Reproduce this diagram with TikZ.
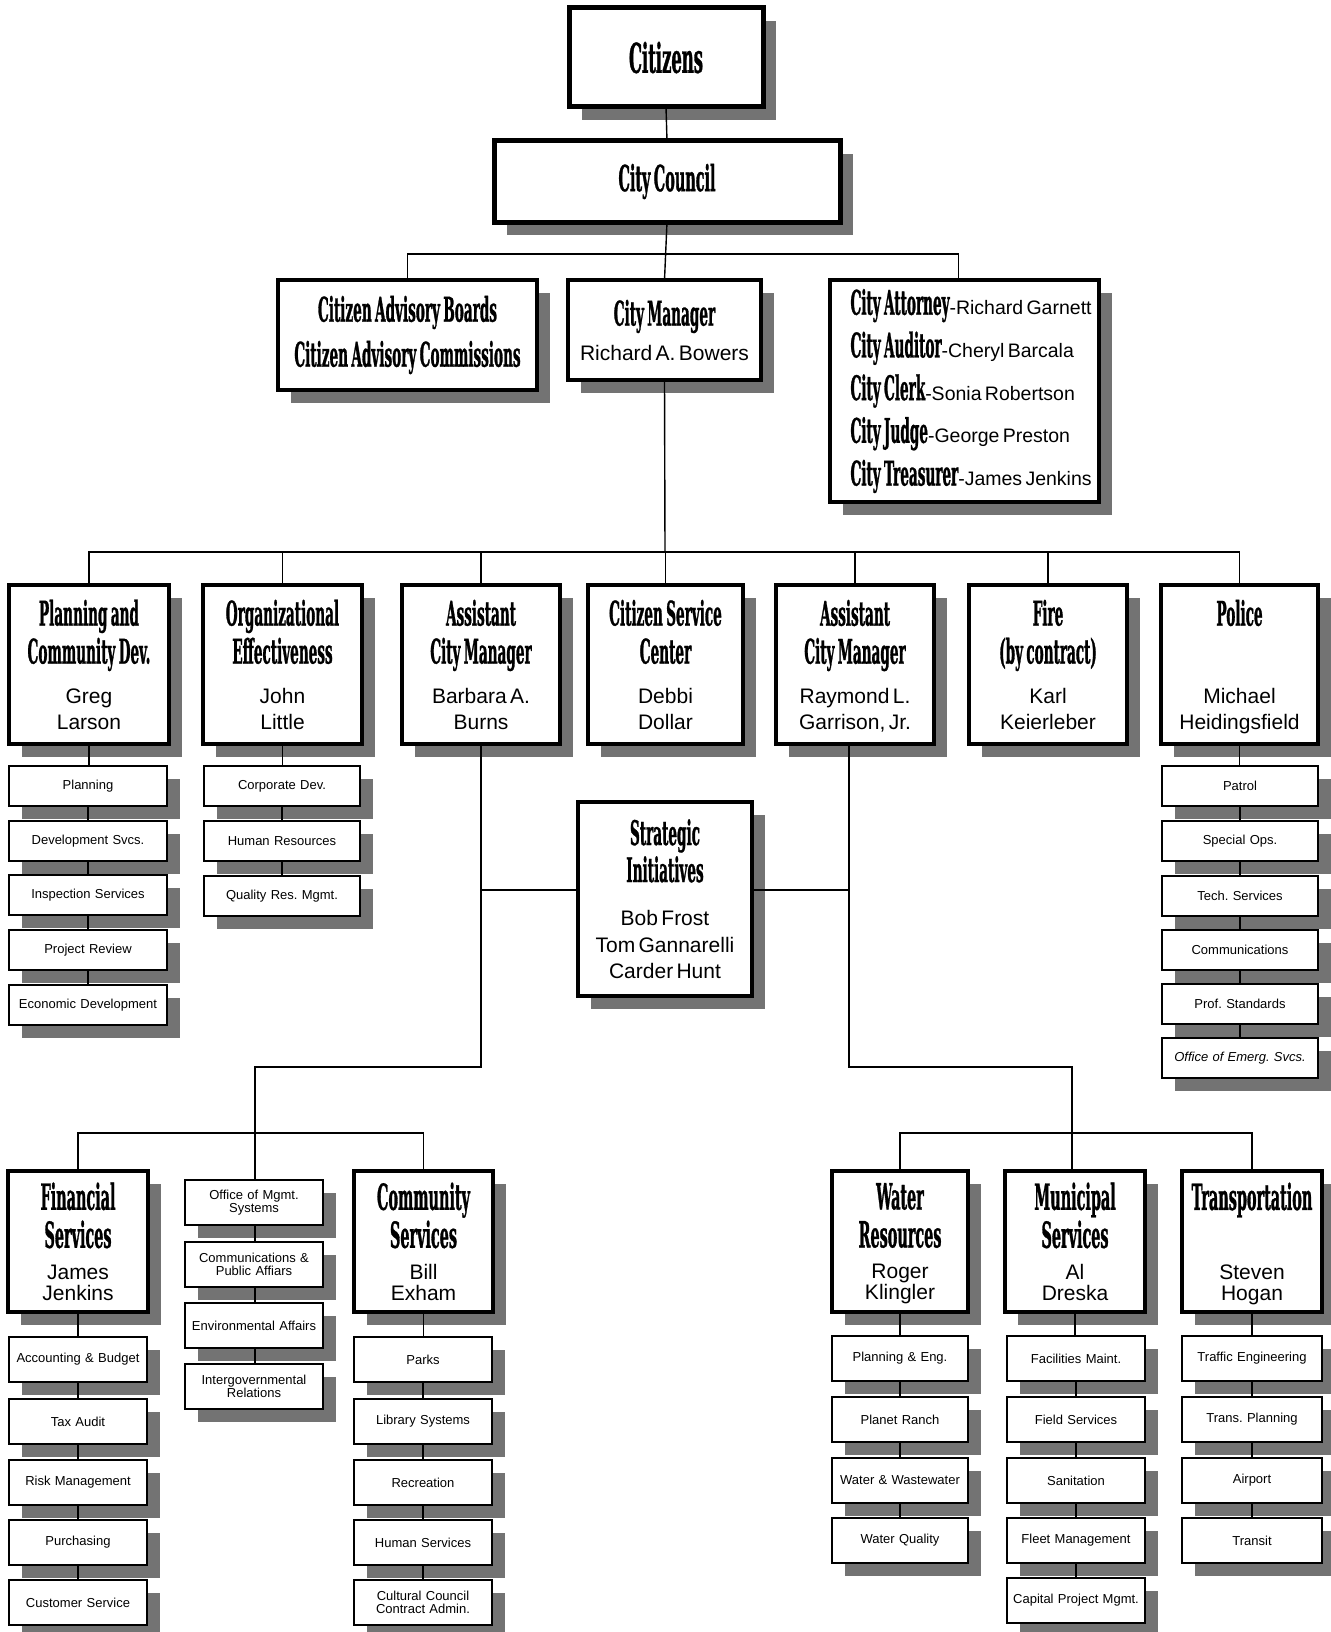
\documentclass[tikz,border=0pt]{standalone}
\usepackage{fontspec}
\setmainfont{Liberation Sans}
\newfontfamily\dispfont[FakeStretch=0.4,FakeBold=0.8]{DejaVu Serif}
\usetikzlibrary{shadows,calc}
\frenchspacing

\newcommand\ttlR{\dispfont\bfseries\fontsize{34}{38}\selectfont}
\newcommand\ttlB{\dispfont\bfseries\fontsize{36}{38}\selectfont}
\newcommand\ttlC{\dispfont\bfseries\fontsize{34}{40}\selectfont}
\newcommand\nmR{\fontsize{21}{26}\selectfont}
\newcommand\nmB{\fontsize{21}{21}\selectfont}
\newcommand\subf{\fontsize{13}{13}\selectfont}

\tikzset{
  conn/.style={line width=1.4pt},
  shad/.style={general shadow={fill=black!55, shadow xshift=13pt, shadow yshift=-13pt}},
  mainbox/.style={draw, line width=4.5pt, fill=white, shad, inner sep=0pt, outer sep=0pt, align=center},
  topbox/.style={mainbox, line width=5pt},
  subbox/.style={draw, line width=1.8pt, fill=white, shad, inner sep=0pt, outer sep=0pt, align=center, font=\subf},
}

% #1 name, #2 x1, #3 y1, #4 x2, #5 y2, #6 style, #7 content
\newcommand\BX[7]{%
  \pgfmathsetmacro\bxw{#4-#2}\pgfmathsetmacro\bxh{#5-#3}\pgfmathsetmacro\bxt{#4-#2-4}%
  \node[minimum width=\bxw pt, minimum height=\bxh pt, text width=\bxt pt, #6] (#1) at ({(#2+#4)/2},{(#3+#5)/2}) {#7};}
\newcommand\HD[3]{{\ttlR #1\par}\vspace{#3}{\nmR #2\par}}
\newcommand\HB[2]{{\ttlB #1\par}\vspace{10.5pt}{\nmB #2\par}}

\begin{document}
\begin{tikzpicture}[x=1pt,y=-1pt]
\fill[white] (0,0) rectangle (1330,1632);
\useasboundingbox (0,0) rectangle (1330,1632);

% ---------- top ----------
\BX{cit}{569}{8}{763}{107}{topbox}{{\dispfont\bfseries\fontsize{41}{44}\selectfont Citizens\par}}
\BX{council}{494}{141}{840}{222}{topbox}{{\dispfont\bfseries\fontsize{36}{40}\selectfont City Council\par}}
\BX{cab}{278}{280}{537}{390}{mainbox}{{\ttlC\fontsize{34}{45}\selectfont Citizen Advisory Boards\\Citizen Advisory Commissions\par}}
\BX{cm}{568}{280}{761}{380}{mainbox}{{\ttlC City Manager\par}\vspace{8.5pt}{\nmR Richard A. Bowers\par}}
\BX{catty}{830}{280}{1099}{502}{mainbox, text width=262pt, align=left}{\leftskip=17pt\fontsize{19.5}{42.7}\selectfont
{\ttlC City Attorney}-Richard Garnett\\
{\ttlC City Auditor}-Cheryl Barcala\\
{\ttlC City Clerk}-Sonia Robertson\\
{\ttlC City Judge}-George Preston\\
{\ttlC City Treasurer}-James Jenkins\par}

% ---------- row 2 ----------
\BX{pcd}{9}{585}{169}{744}{mainbox}{\HD{Planning and\\Community Dev.}{Greg\\Larson}{13.5pt}}
\BX{oe}{203}{585}{362}{744}{mainbox}{\HD{Organizational\\Effectiveness}{John\\Little}{13.5pt}}
\BX{acm1}{402}{585}{560}{744}{mainbox}{\HD{Assistant\\City Manager}{Barbara A.\\Burns}{13.5pt}}
\BX{csc}{588}{585}{743}{744}{mainbox}{\HD{Citizen Service\\Center}{Debbi\\Dollar}{13.5pt}}
\BX{acm2}{776}{585}{934}{744}{mainbox}{\HD{Assistant\\City Manager}{Raymond L.\\\smash{Garrison, Jr.}}{13.5pt}}
\BX{fire}{969}{585}{1127}{744}{mainbox}{\HD{Fire\\(by contract)}{Karl\\Keierleber}{13.5pt}}
\BX{police}{1161}{585}{1318}{744}{mainbox}{\HD{Police\\\mbox{}}{Michael\\\smash{Heidingsfield}}{13.5pt}}

% planning subs
\BX{ps1}{9}{766}{167}{806}{subbox}{Planning}
\BX{ps2}{9}{821}{167}{861}{subbox}{Development Svcs.}
\BX{ps3}{9}{875}{167}{915}{subbox}{Inspection Services}
\BX{ps4}{9}{930}{167}{970}{subbox}{Project Review}
\BX{ps5}{9}{985}{167}{1025}{subbox}{Economic Development}
% org eff subs
\BX{os1}{204}{766}{360}{806}{subbox}{Corporate Dev.}
\BX{os2}{204}{821}{360}{861}{subbox}{Human Resources}
\BX{os3}{204}{876}{360}{916}{subbox}{Quality Res. Mgmt.}
% police subs
\BX{pol1}{1162}{766}{1318}{806}{subbox}{Patrol}
\BX{pol2}{1162}{821}{1318}{861}{subbox}{Special Ops.}
\BX{pol3}{1162}{876}{1318}{916}{subbox}{Tech. Services}
\BX{pol4}{1162}{930}{1318}{970}{subbox}{Communications}
\BX{pol5}{1162}{984}{1318}{1024}{subbox}{Prof. Standards}
\BX{pol6}{1162}{1038}{1318}{1078}{subbox}{\itshape Office of Emerg. Svcs.}

% strategic initiatives
\BX{si}{578}{802}{752}{996}{mainbox}{{\ttlR\fontsize{34}{37}\selectfont Strategic\\Initiatives\par}\vspace{17pt}{\fontsize{21}{26.5}\selectfont Bob Frost\\Tom Gannarelli\\Carder Hunt\par}}

% ---------- bottom left ----------
\BX{fin}{8}{1171}{148}{1312}{mainbox}{\HB{Financial\\Services}{James\\Jenkins}}
\BX{cs}{354}{1171}{493}{1312}{mainbox}{\HB{Community\\Services}{Bill\\Exham}}
\BX{mid1}{185}{1180}{323}{1225}{subbox}{Office of Mgmt.\\Systems}
\BX{mid2}{185}{1242}{323}{1287}{subbox}{Communications \&\\Public Affiars}
\BX{mid3}{185}{1303}{323}{1348}{subbox}{Environmental Affairs}
\BX{mid4}{185}{1364}{323}{1409}{subbox}{Intergovernmental\\Relations}

\BX{fs1}{9}{1337}{147}{1382}{subbox}{Accounting \& Budget}
\BX{fs2}{9}{1399}{147}{1444}{subbox}{Tax Audit}
\BX{fs3}{9}{1460}{147}{1505}{subbox}{Risk Management}
\BX{fs4}{9}{1520}{147}{1565}{subbox}{Purchasing}
\BX{fs5}{9}{1580}{147}{1625}{subbox}{Customer Service}

\BX{cs1}{354}{1337}{492}{1382}{subbox}{Parks}
\BX{cs2}{354}{1399}{492}{1444}{subbox}{Library Systems}
\BX{cs3}{354}{1460}{492}{1505}{subbox}{Recreation}
\BX{cs4}{354}{1520}{492}{1565}{subbox}{Human Services}
\BX{cs5}{354}{1580}{492}{1625}{subbox}{Cultural Council\\Contract Admin.}

% ---------- bottom right ----------
\BX{wr}{832}{1171}{968}{1312}{mainbox}{\HB{Water\\Resources}{Roger\\\smash{Klingler}}}
\BX{ms}{1005}{1171}{1145}{1312}{mainbox}{\HB{Municipal\\Services}{Al\\Dreska}}
\BX{tr}{1182}{1171}{1322}{1312}{mainbox}{\HB{Transportation\\\mbox{}}{Steven\\\smash{Hogan}}}

\BX{wr1}{832}{1336}{968}{1381}{subbox}{Planning \& Eng.}
\BX{wr2}{832}{1397}{968}{1442}{subbox}{Planet Ranch}
\BX{wr3}{832}{1458}{968}{1503}{subbox}{Water \& Wastewater}
\BX{wr4}{832}{1518}{968}{1563}{subbox}{Water Quality}

\BX{ms1}{1007}{1336}{1145}{1381}{subbox}{Facilities Maint.}
\BX{ms2}{1007}{1397}{1145}{1442}{subbox}{Field Services}
\BX{ms3}{1007}{1458}{1145}{1503}{subbox}{Sanitation}
\BX{ms4}{1007}{1518}{1145}{1563}{subbox}{Fleet Management}
\BX{ms5}{1007}{1578}{1145}{1623}{subbox}{Capital Project Mgmt.}

\BX{tr1}{1182}{1336}{1322}{1381}{subbox}{Traffic Engineering}
\BX{tr2}{1182}{1397}{1322}{1442}{subbox}{Trans. Planning}
\BX{tr3}{1182}{1458}{1322}{1503}{subbox}{Airport}
\BX{tr4}{1182}{1518}{1322}{1563}{subbox}{Transit}

% ---------- connectors ----------
\coordinate (b1) at (665,254);
\coordinate (b2) at (665,552);
\coordinate (j1) at (255,1067);
\coordinate (b3) at (255,1133);
\coordinate (j2) at (1072,1067);
\coordinate (b4) at (1072,1133);
\coordinate (sil) at (665,890);
\coordinate (a2s) at (849,744);

\draw[conn] (cit.south) -- (council.north);
\draw[conn] (council.south) -- (cm.north);
\draw[conn] (cab.north) |- (b1) -| ($(catty.north)+(-6,0)$);
\draw[conn] (cm.south) -- (b2);
\draw[conn] (pcd.north) |- (b2) -| (police.north);
\foreach \n in {oe,acm1,csc,acm2,fire} \draw[conn] (\n.north) -- (\n.north |- b2);

\draw[conn] (pcd.south) -- (pcd.south |- ps1.north)
  (ps1.south) -- (ps2.north) (ps2.south) -- (ps3.north) (ps3.south) -- (ps4.north) (ps4.south) -- (ps5.north);
\draw[conn] (oe.south) -- (oe.south |- os1.north)
  (os1.south) -- (os2.north) (os2.south) -- (os3.north);
\draw[conn] (police.south) -- (police.south |- pol1.north)
  (pol1.south) -- (pol2.north) (pol2.south) -- (pol3.north) (pol3.south) -- (pol4.north)
  (pol4.south) -- (pol5.north) (pol5.south) -- (pol6.north);

% strategic initiatives links
\draw[conn] (si.west |- sil) -- (acm1.south |- sil);
\draw[conn] (si.east |- sil) -- (a2s |- sil);

% left branch
\draw[conn] (acm1.south) |- (j1) -- (b3);
\draw[conn] (fin.north) |- (b3) -| (cs.north);
\draw[conn] (b3) -- (b3 |- mid1.north)
  (mid1.south -| b3) -- (mid2.north -| b3) (mid2.south -| b3) -- (mid3.north -| b3) (mid3.south -| b3) -- (mid4.north -| b3);
\draw[conn] (fin.south) -- (fin.south |- fs1.north)
  (fs1.south) -- (fs2.north) (fs2.south) -- (fs3.north) (fs3.south) -- (fs4.north) (fs4.south) -- (fs5.north);
\draw[conn] (cs.south) -- (cs.south |- cs1.north)
  (cs1.south) -- (cs2.north) (cs2.south) -- (cs3.north) (cs3.south) -- (cs4.north) (cs4.south) -- (cs5.north);

% right branch
\draw[conn] (a2s) |- (j2) -- (b4);
\draw[conn] (wr.north) |- (b4) -| (tr.north);
\draw[conn] (b4) -- (b4 |- ms.north);
\draw[conn] (wr.south) -- (wr.south |- wr1.north)
  (wr1.south) -- (wr2.north) (wr2.south) -- (wr3.north) (wr3.south) -- (wr4.north);
\draw[conn] (ms.south) -- (ms.south |- ms1.north)
  (ms1.south) -- (ms2.north) (ms2.south) -- (ms3.north) (ms3.south) -- (ms4.north) (ms4.south) -- (ms5.north);
\draw[conn] (tr.south) -- (tr.south |- tr1.north)
  (tr1.south) -- (tr2.north) (tr2.south) -- (tr3.north) (tr3.south) -- (tr4.north);
\end{tikzpicture}
\end{document}
